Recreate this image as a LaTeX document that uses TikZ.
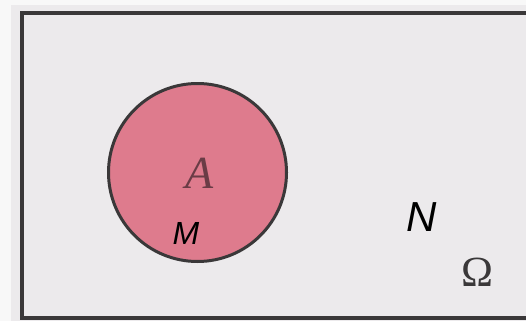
\documentclass[tikz,border=0pt]{standalone}
\usepackage{fontspec}
\newfontfamily\sansit{Liberation Sans}
\newfontfamily\serifgr{Liberation Serif}
\definecolor{paper}{HTML}{ECEAEC}
\definecolor{margin}{HTML}{F8F8F8}
\definecolor{frame}{HTML}{3A3839}
\definecolor{setpink}{HTML}{DE7B8D}
\definecolor{letterA}{HTML}{6A3C46}
\tikzset{
  framebox/.style={draw=frame, line width=4pt},
  setcircle/.style={circle, draw=frame, line width=3pt, fill=setpink, minimum size=178pt, inner sep=0pt},
  pointlabel/.style={inner sep=0pt, text=black},
}
\begin{document}
\begin{tikzpicture}[x=1pt,y=-1pt]
\useasboundingbox (0,0) rectangle (526,321);
\clip (0,0) rectangle (526,321);
\fill[margin] (0,0) rectangle (526,321);
\fill[paper] (11,5) rectangle (526,321);
\coordinate (tl) at (22,13);
\coordinate (br) at (540,318);
\draw[framebox] (tl) rectangle (br);
\node[setcircle] (A) at (197.5,172.5) {};
\node[inner sep=0pt, text=letterA, font={\fontsize{46}{50}\selectfont\serifgr\itshape}] (Alab) at (200,173) {A};
\node[pointlabel, font={\fontsize{32}{36}\selectfont\sansit\itshape}] (M) at (186,233) {M};
\node[pointlabel, font={\fontsize{42}{46}\selectfont\sansit\itshape}] (N) at (422,217) {N};
\node[pointlabel, text=frame, font={\fontsize{43}{48}\selectfont\serifgr}] (Omega) at (477,272) {Ω};
\end{tikzpicture}
\end{document}
